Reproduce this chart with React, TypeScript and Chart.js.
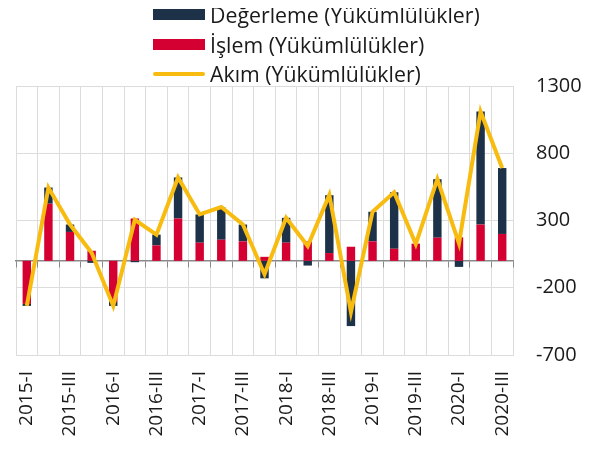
import React, { useEffect, useRef } from "react";
import { Chart, registerables } from "chart.js";

Chart.register(...registerables);

const categories = [
  "2015-I", "2015-II", "2015-III", "2015-IV",
  "2016-I", "2016-II", "2016-III", "2016-IV",
  "2017-I", "2017-II", "2017-III", "2017-IV",
  "2018-I", "2018-II", "2018-III", "2018-IV",
  "2019-I", "2019-II", "2019-III", "2019-IV",
  "2020-I", "2020-II", "2020-III",
];

const degerleme = [-15, 120, 55, -15, -30, -10, 80, 305, 210, 240, 125, -130, 185, -35, 430, -485, 220, 420, 0, 435, -45, 840, 490];
const islem = [-320, 425, 215, 75, -305, 315, 115, 315, 135, 157, 145, 30, 135, 145, 58, 105, 145, 90, 128, 172, 175, 270, 200];
const akim = [-335, 545, 270, 60, -335, 305, 195, 620, 345, 400, 270, -100, 320, 110, 490, -380, 365, 510, 125, 608, 130, 1110, 690];

const yMin = -700;
const yMax = 1300;
const yStep = 500;

const NAVY = "#1d3249";
const RED = "#d50032";
const YELLOW = "#f8bb0f";
const GRID = "#dcdcdc";
const FONT = "'Open Sans', sans-serif";

const legendItems = [
  { label: "Değerleme (Yükümlülükler)", color: NAVY, kind: "box" },
  { label: "İşlem (Yükümlülükler)", color: RED, kind: "box" },
  { label: "Akım (Yükümlülükler)", color: YELLOW, kind: "line" },
];

export default function App() {
  const canvasRef = useRef<HTMLCanvasElement | null>(null);

  useEffect(() => {
    if (!canvasRef.current) return;
    const chart = new Chart(canvasRef.current, {
      type: "bar",
      data: {
        labels: categories,
        datasets: [
          {
            type: "line",
            label: "Akım (Yükümlülükler)",
            data: akim,
            borderColor: YELLOW,
            backgroundColor: YELLOW,
            borderWidth: 4,
            pointRadius: 0,
            tension: 0,
            order: 0,
            xAxisID: "x",
            yAxisID: "y",
          } as any,
          {
            label: "İşlem (Yükümlülükler)",
            data: islem,
            backgroundColor: RED,
            stack: "s",
            order: 1,
            categoryPercentage: 1,
            barPercentage: 0.39,
            xAxisID: "x",
            yAxisID: "y",
          },
          {
            label: "Değerleme (Yükümlülükler)",
            data: degerleme,
            backgroundColor: NAVY,
            stack: "s",
            order: 1,
            categoryPercentage: 1,
            barPercentage: 0.39,
            xAxisID: "x",
            yAxisID: "y",
          },
        ],
      },
      options: {
        animation: false,
        responsive: false,
        layout: { padding: { top: 78, left: 8, right: 0, bottom: 0 } },
        plugins: {
          legend: { display: false },
          tooltip: { enabled: false },
        },
        scales: {
          x: {
            type: "category",
            stacked: true,
            offset: true,
            position: "bottom",
            grid: { offset: true, color: GRID, drawTicks: false, lineWidth: 1 },
            border: { display: true, color: GRID },
            ticks: {
              autoSkip: false,
              maxRotation: 90,
              minRotation: 90,
              padding: 16,
              color: "#1a1a1a",
              font: { family: FONT, size: 19 },
              callback: (_v: any, i: number) => (i % 2 === 0 ? categories[i] : ""),
            },
            afterFit: (s: any) => {
              s.height = 87;
            },
          },
          x2: {
            type: "category",
            labels: categories,
            offset: true,
            position: { y: 0 } as any,
            grid: { offset: true, drawOnChartArea: false, drawTicks: true, tickLength: 6, color: "#8a8a8a" },
            border: { display: true, color: "#8a8a8a", width: 1.5 },
            ticks: { display: false },
          },
          y: {
            type: "linear",
            position: "right",
            stacked: true,
            min: yMin,
            max: yMax,
            grid: { color: GRID, drawTicks: false },
            border: { display: false },
            ticks: {
              stepSize: yStep,
              padding: 23,
              color: "#1a1a1a",
              font: { family: FONT, size: 20 },
              callback: (v: any) => String(v),
            },
            afterFit: (s: any) => {
              s.width = 79;
            },
          },
        },
      } as any,
    });
    return () => chart.destroy();
  }, []);

  return (
    <div style={{ position: "relative", width: 584, height: 434 }}>
      <canvas ref={canvasRef} width={584} height={434} />
      <div style={{ position: "absolute", left: 145, top: -8, fontFamily: FONT, fontSize: 21.3, color: "#1a1a1a" }}>
        {legendItems.map((it) => (
          <div key={it.label} style={{ display: "flex", alignItems: "center", height: 29.5, whiteSpace: "nowrap" }}>
            <div
              style={{
                width: 52,
                height: it.kind === "box" ? 11 : 4,
                background: it.color,
                borderRadius: it.kind === "box" ? 0 : 2,
                marginRight: 5,
              }}
            />
            <span style={{ lineHeight: "29.5px" }}>{it.label}</span>
          </div>
        ))}
      </div>
    </div>
  );
}
